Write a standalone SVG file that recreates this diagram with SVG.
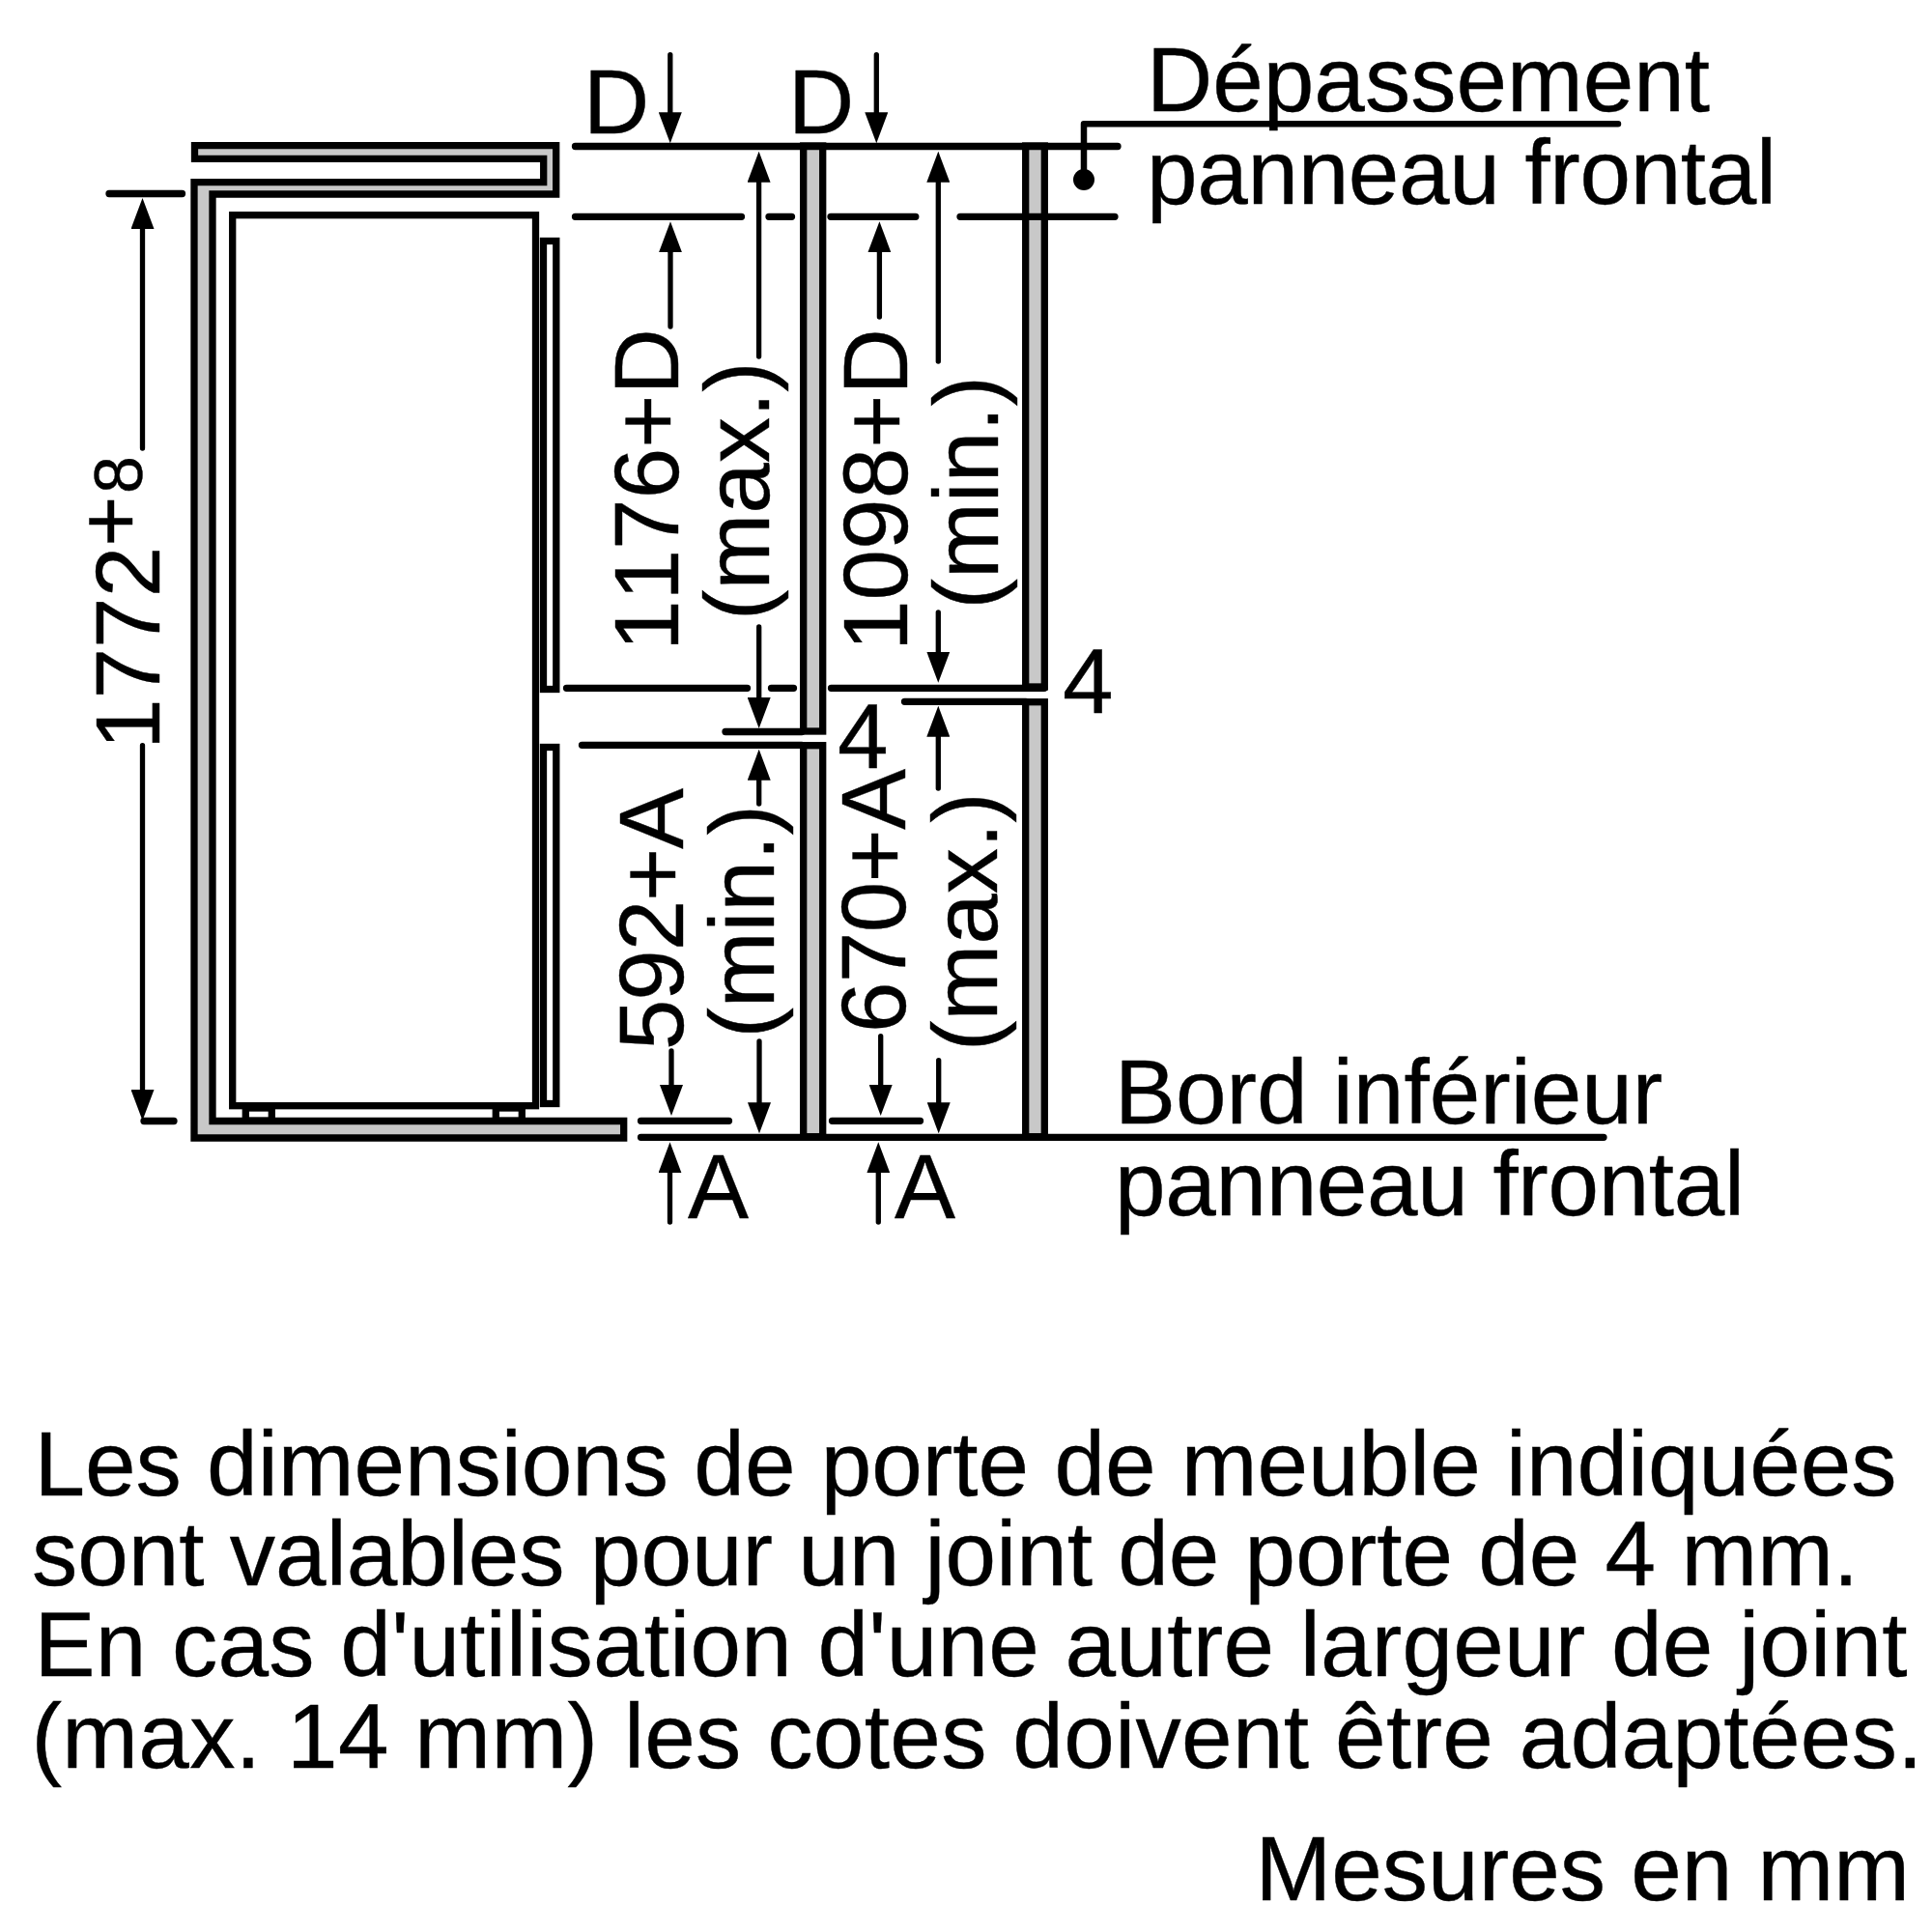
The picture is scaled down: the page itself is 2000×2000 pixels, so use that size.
<svg xmlns="http://www.w3.org/2000/svg" width="2000" height="2000" viewBox="0 0 2000 2000">
<style>
text{font-family:"Liberation Sans",Arial,sans-serif;font-size:94.5px;fill:#000;stroke:#000;stroke-width:.4;font-kerning:none}
.s{fill:#c8c8c8;stroke:#000;stroke-width:7.3;stroke-linejoin:miter}
.w{fill:#fff;stroke:#000;stroke-width:7.3}
.l{fill:none;stroke:#000;stroke-width:7.3;stroke-linecap:round}
.n{fill:none;stroke:#000;stroke-width:6.5;stroke-linejoin:round;stroke-linecap:round}
.a{fill:none;stroke:#000;stroke-width:5.3;stroke-linecap:round;marker-end:url(#h)}
</style>
<defs>
<marker id="h" markerUnits="userSpaceOnUse" viewBox="0 0 32 24" refX="0" refY="12" markerWidth="32" markerHeight="24" orient="auto"><path d="M0 0L32 12L0 24Z" fill="#000"/></marker>
</defs>
<rect width="2000" height="2000" fill="#fff"/>
<g id="niche"><path class="s" d="M201.5 150.7H575.7V201H220V1160.5H645.7V1178H201V188.7H562.7V164.3H201.5Z"/></g>
<g id="appliance">
<rect class="w" x="240.7" y="222.7" width="313.8" height="922"/>
<rect class="w" x="254.3" y="1147" width="27" height="13"/>
<rect class="w" x="513.3" y="1147" width="27" height="13"/>
<rect class="w" x="562.5" y="249.5" width="13.3" height="464"/>
<rect class="w" x="562.5" y="773.5" width="13.3" height="369"/>
</g>
<g id="panels">
<rect class="s" x="831.7" y="151" width="20" height="606"/>
<rect class="s" x="831.7" y="771.7" width="20" height="405"/>
<rect class="s" x="1061.7" y="151" width="19.6" height="560"/>
<rect class="s" x="1061.7" y="726.7" width="19.6" height="450"/>
</g>
<g id="connectors">
<path class="l" d="M595.5 151.5H1157M595.5 224.3H767.5M796 224.3H819.5M860 224.3H947.8M994 224.3H1154M586.5 712.3H773.5M798.5 712.3H821.5M860.5 712.3H1081M751 757.5H830M602.5 771.3H830M936.5 726.3H1062M663.5 1160.3H754.5M861.5 1160.3H952.5M663.5 1177.3H1660M113 200.5H188.5M149 1160.5H180"/>
<path class="n" d="M1675 128.3H1122V186"/>
<circle cx="1122" cy="186" r="11"/>
<path class="a" d="M693.8 56.7V116.3"/>
<path class="a" d="M907.3 56.7V116.3"/>
<path class="a" d="M693.5 1265V1214.3"/>
<path class="a" d="M909.3 1265V1214.3"/>
<path class="a" d="M147.5 464V237"/>
<path class="a" d="M147.5 771.7V1128"/>
<path class="a" d="M694 338V261.3"/>
<path class="a" d="M910.4 328V261.3"/>
<path class="a" d="M785.6 369V188.7"/>
<path class="a" d="M971.3 374V188.7"/>
<path class="a" d="M785.7 649V722"/>
<path class="a" d="M971.3 634V674.7"/>
<path class="a" d="M785.7 832V807.7"/>
<path class="a" d="M971.3 816V762.7"/>
<path class="a" d="M695 1088V1123"/>
<path class="a" d="M786 1078V1141.3"/>
<path class="a" d="M911.7 1072.7V1123"/>
<path class="a" d="M971.7 1097.7V1141.3"/>
</g>
<g id="labels">
<text x="604" y="138">D</text><text x="816" y="138">D</text>
<text x="712" y="1261">A</text><text x="926" y="1261">A</text>
<text x="1100" y="738">4</text><text x="867" y="795">4</text>
<text x="1187" y="115">Dépassement</text>
<text x="1187" y="211" textLength="652">panneau frontal</text>
<text x="1154" y="1163">Bord inférieur</text>
<text x="1154" y="1258" textLength="652">panneau frontal</text>
<text transform="translate(165 776) rotate(-90)">1772<tspan x="210" y="-20" font-size="90">+</tspan><tspan x="265" y="-18" font-size="70">8</tspan></text>
<text transform="translate(701.7 674) rotate(-90)">1176+D</text>
<text transform="translate(795.7 642) rotate(-90)">(max.)</text>
<text transform="translate(939.3 674) rotate(-90)">1098+D</text>
<text transform="translate(1033.3 630.5) rotate(-90)">(min.)</text>
<text transform="translate(706.7 1087) rotate(-90)" textLength="271">592+A</text>
<text transform="translate(801 1074.6) rotate(-90)">(min.)</text>
<text transform="translate(937.3 1069) rotate(-90)" textLength="273">670+A</text>
<text transform="translate(1031.7 1088) rotate(-90)">(max.)</text>
<text x="35.5" y="1548">Les dimensions de porte de meuble indiquées</text>
<text x="33" y="1641">sont valables pour un joint de porte de 4 mm.</text>
<text x="35.5" y="1735" textLength="1939">En cas d'utilisation d'une autre largeur de joint</text>
<text x="32.5" y="1830" textLength="1958">(max. 14 mm) les cotes doivent être adaptées.</text>
<text x="1977" y="1967" text-anchor="end">Mesures en mm</text>
</g>
</svg>
